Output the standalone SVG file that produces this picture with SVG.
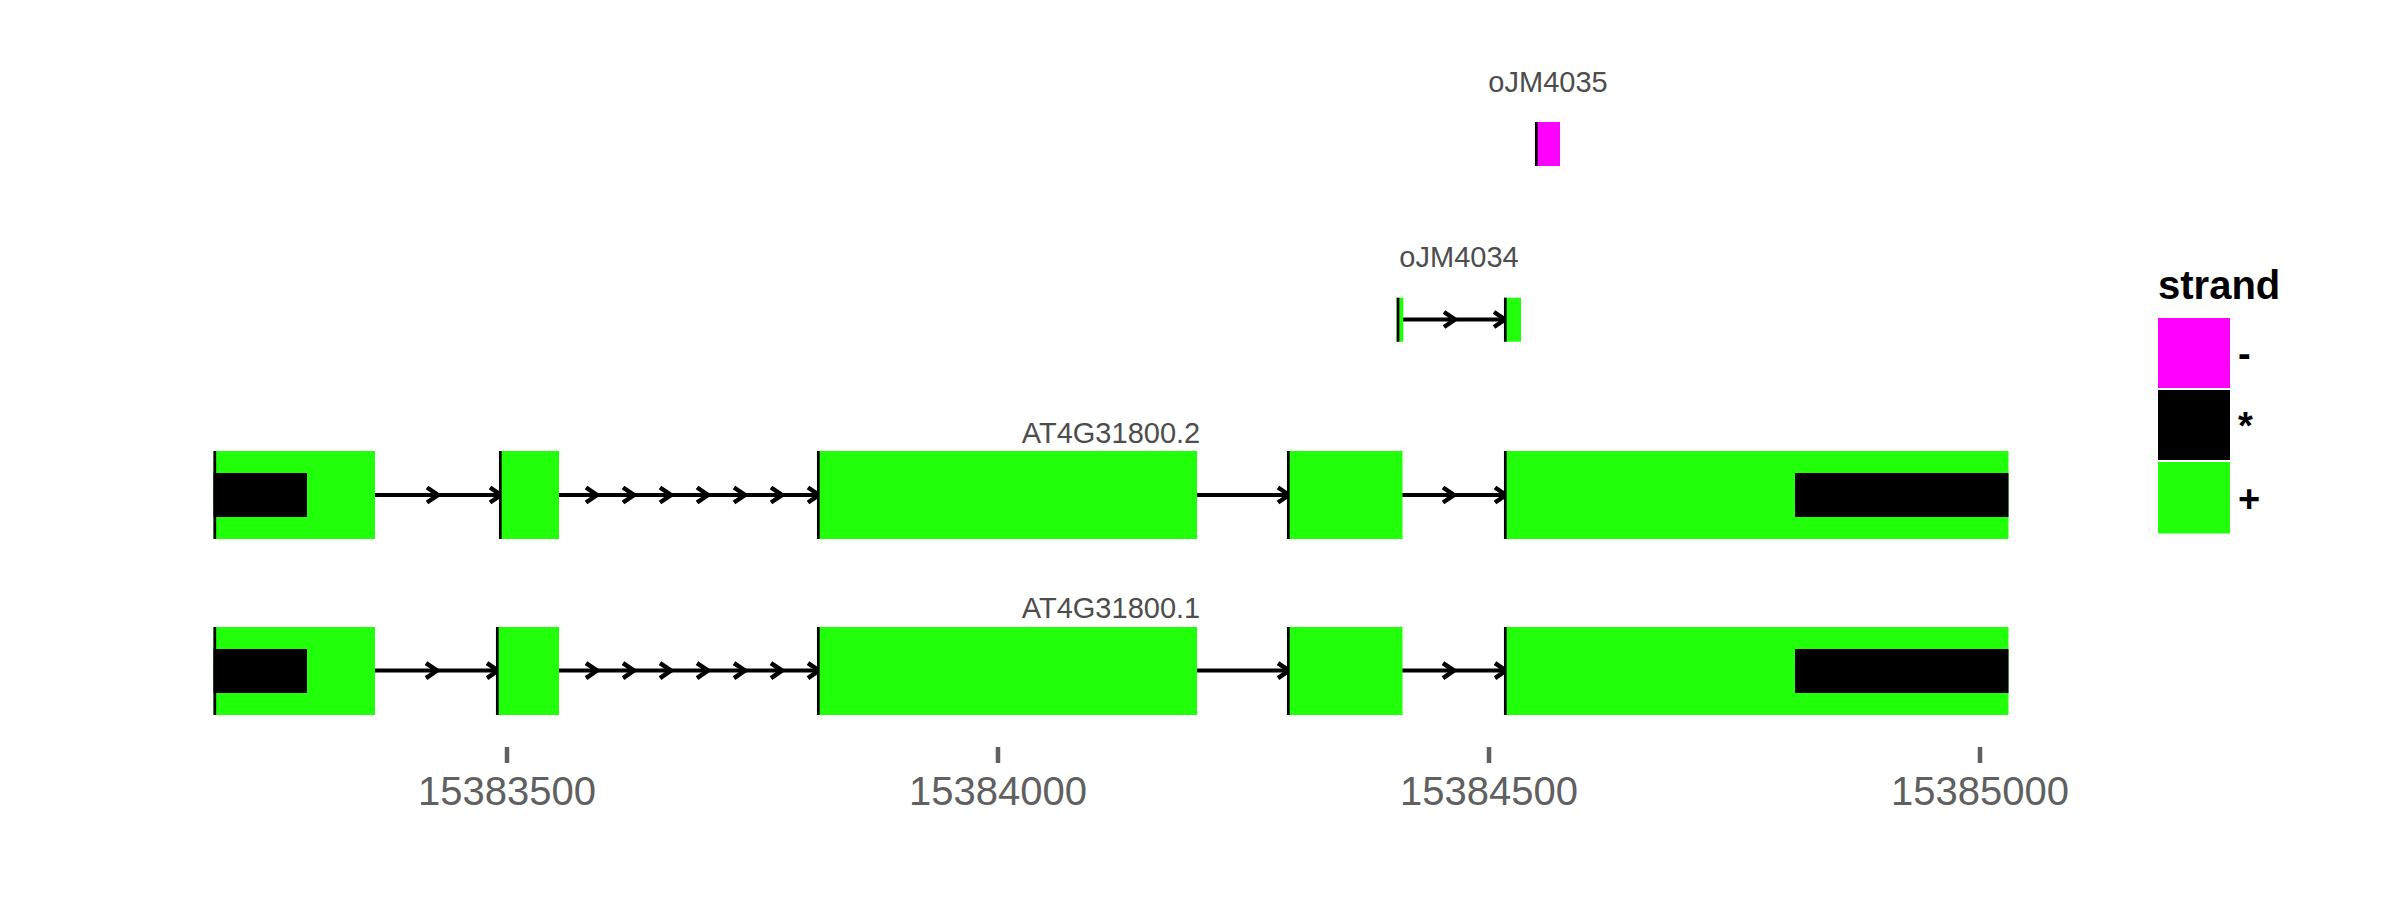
<svg xmlns="http://www.w3.org/2000/svg" width="2400" height="900" viewBox="0 0 2400 900">
<defs>
<style>
.ex{fill:#22ff0a}
.cds{fill:#000}
.neg{fill:#ff00ff}
.edge{stroke:#000;stroke-width:2.7}
.intron{stroke:#000;stroke-width:4;fill:none}
.chev{stroke:#000;stroke-width:4.5;fill:none;stroke-linejoin:miter}
.lab{font-family:"Liberation Sans",Arial,sans-serif;font-size:29px;fill:#4d4d4d;text-anchor:middle}
.axt{font-family:"Liberation Sans",Arial,sans-serif;font-size:40px;fill:#606060;text-anchor:middle}
.tick{stroke:#606060;stroke-width:4.5}
.lgt{font-family:"Liberation Sans",Arial,sans-serif;font-size:40px;font-weight:bold;fill:#000}
.lgl{font-family:"Liberation Sans",Arial,sans-serif;font-size:38px;font-weight:bold;fill:#000}
</style>
<path id="ch" d="M-11,-7.5 L0,0 L-11,7.5"/>
</defs>
<rect width="2400" height="900" fill="#fff"/>

<g id="connectors">
<!-- oJM4034 -->
<line class="intron" x1="1403" y1="319.5" x2="1504" y2="319.5"/>
<use href="#ch" class="chev" x="1455" y="319.5"/>
<use href="#ch" class="chev" x="1505" y="319.5"/>
<!-- AT4G31800.2 -->
<line class="intron" x1="375" y1="495" x2="499" y2="495"/>
<line class="intron" x1="559" y1="495" x2="817" y2="495"/>
<line class="intron" x1="1197" y1="495" x2="1287" y2="495"/>
<line class="intron" x1="1402" y1="495" x2="1504" y2="495"/>
<use href="#ch" class="chev" x="438" y="495"/>
<use href="#ch" class="chev" x="501" y="495"/>
<use href="#ch" class="chev" x="597" y="495"/>
<use href="#ch" class="chev" x="634" y="495"/>
<use href="#ch" class="chev" x="671" y="495"/>
<use href="#ch" class="chev" x="708" y="495"/>
<use href="#ch" class="chev" x="745" y="495"/>
<use href="#ch" class="chev" x="782" y="495"/>
<use href="#ch" class="chev" x="819" y="495"/>
<use href="#ch" class="chev" x="1289" y="495"/>
<use href="#ch" class="chev" x="1454" y="495"/>
<use href="#ch" class="chev" x="1506" y="495"/>
<!-- AT4G31800.1 -->
<line class="intron" x1="375" y1="670.6" x2="496" y2="670.6"/>
<line class="intron" x1="559" y1="670.6" x2="817" y2="670.6"/>
<line class="intron" x1="1197" y1="670.6" x2="1287" y2="670.6"/>
<line class="intron" x1="1402" y1="670.6" x2="1504" y2="670.6"/>
<use href="#ch" class="chev" x="437" y="670.6"/>
<use href="#ch" class="chev" x="498" y="670.6"/>
<use href="#ch" class="chev" x="597" y="670.6"/>
<use href="#ch" class="chev" x="634" y="670.6"/>
<use href="#ch" class="chev" x="671" y="670.6"/>
<use href="#ch" class="chev" x="708" y="670.6"/>
<use href="#ch" class="chev" x="745" y="670.6"/>
<use href="#ch" class="chev" x="782" y="670.6"/>
<use href="#ch" class="chev" x="819" y="670.6"/>
<use href="#ch" class="chev" x="1289" y="670.6"/>
<use href="#ch" class="chev" x="1454" y="670.6"/>
<use href="#ch" class="chev" x="1506" y="670.6"/>
</g>

<g id="oJM4035">
<text class="lab" x="1548" y="92">oJM4035</text>
<rect class="neg" x="1535" y="122" width="25" height="44"/>
<line class="edge" x1="1536.3" y1="122" x2="1536.3" y2="166"/>
</g>

<g id="oJM4034">
<text class="lab" x="1459" y="266.5">oJM4034</text>
<rect class="ex" x="1396.7" y="297.7" width="6.6" height="44"/>
<rect class="ex" x="1504" y="297.7" width="17" height="44"/>
<line class="edge" x1="1398" y1="297.7" x2="1398" y2="341.7"/>
<line class="edge" x1="1505.3" y1="297.7" x2="1505.3" y2="341.7"/>
</g>

<g id="AT4G31800.2">
<text class="lab" x="1111" y="442.5">AT4G31800.2</text>
<rect class="ex" x="213.5" y="451" width="161.5" height="88"/>
<rect class="cds" x="213.5" y="473" width="93.5" height="44"/>
<rect class="ex" x="499" y="451" width="60" height="88"/>
<rect class="ex" x="817" y="451" width="380" height="88"/>
<rect class="ex" x="1287" y="451" width="115.5" height="88"/>
<rect class="ex" x="1504" y="451" width="504.5" height="88"/>
<rect class="cds" x="1795" y="473" width="213.5" height="44"/>
<line class="edge" x1="214.8" y1="451" x2="214.8" y2="539"/>
<line class="edge" x1="500.3" y1="451" x2="500.3" y2="539"/>
<line class="edge" x1="818.3" y1="451" x2="818.3" y2="539"/>
<line class="edge" x1="1288.3" y1="451" x2="1288.3" y2="539"/>
<line class="edge" x1="1505.3" y1="451" x2="1505.3" y2="539"/>
</g>

<g id="AT4G31800.1">
<text class="lab" x="1111" y="618">AT4G31800.1</text>
<rect class="ex" x="213.5" y="627" width="161.5" height="88"/>
<rect class="cds" x="213.5" y="649" width="93.5" height="44"/>
<rect class="ex" x="496" y="627" width="63" height="88"/>
<rect class="ex" x="817" y="627" width="380" height="88"/>
<rect class="ex" x="1287" y="627" width="115.5" height="88"/>
<rect class="ex" x="1504" y="627" width="504.5" height="88"/>
<rect class="cds" x="1795" y="649" width="213.5" height="44"/>
<line class="edge" x1="214.8" y1="627" x2="214.8" y2="715"/>
<line class="edge" x1="497.3" y1="627" x2="497.3" y2="715"/>
<line class="edge" x1="818.3" y1="627" x2="818.3" y2="715"/>
<line class="edge" x1="1288.3" y1="627" x2="1288.3" y2="715"/>
<line class="edge" x1="1505.3" y1="627" x2="1505.3" y2="715"/>
</g>

<g id="axis">
<line class="tick" x1="507" y1="747" x2="507" y2="763"/>
<line class="tick" x1="998" y1="747" x2="998" y2="763"/>
<line class="tick" x1="1489" y1="747" x2="1489" y2="763"/>
<line class="tick" x1="1980" y1="747" x2="1980" y2="763"/>
<text class="axt" x="507" y="805">15383500</text>
<text class="axt" x="998" y="805">15384000</text>
<text class="axt" x="1489" y="805">15384500</text>
<text class="axt" x="1980" y="805">15385000</text>
</g>

<g id="legend">
<text class="lgt" x="2158" y="299">strand</text>
<rect class="neg" x="2158" y="318" width="72" height="70"/>
<rect class="cds" x="2158" y="390" width="72" height="70"/>
<rect class="ex" x="2158" y="462" width="72" height="71.5"/>
<text class="lgl" x="2238" y="367">-</text>
<text class="lgl" x="2238" y="439">*</text>
<text class="lgl" x="2238" y="512">+</text>
</g>
</svg>
